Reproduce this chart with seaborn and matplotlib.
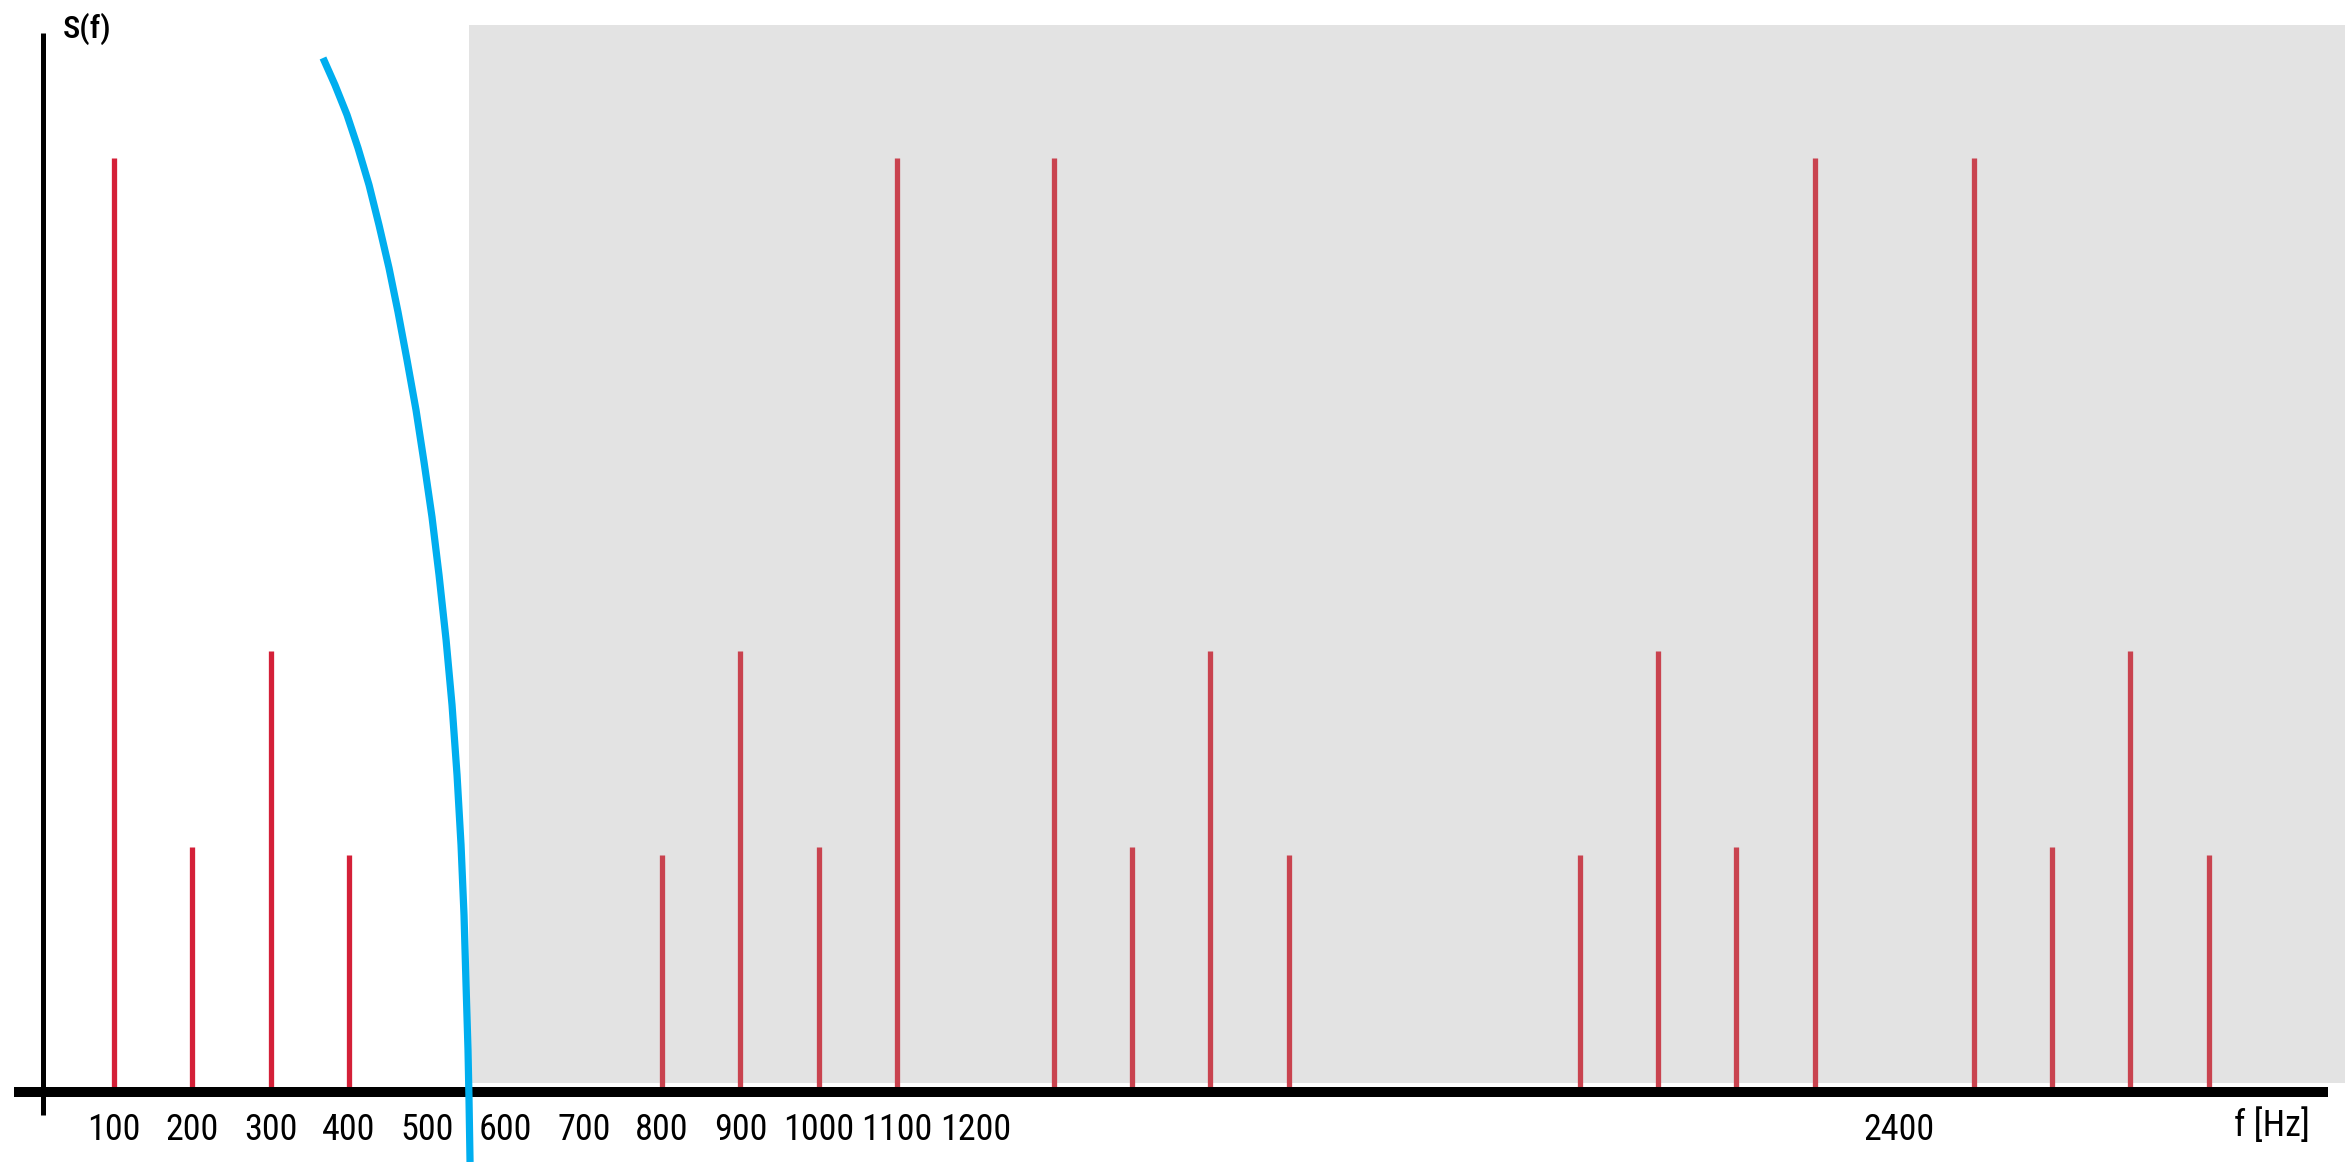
import numpy as np
import pandas as pd
import matplotlib
matplotlib.use("Agg")
import matplotlib.pyplot as plt
from matplotlib import font_manager
import seaborn as sns

sns.set_style("white")

# prefer a condensed face if one is installed
names = {f.name for f in font_manager.fontManager.ttflist}
narrow = [n for n in ['Liberation Sans Narrow', 'DejaVu Sans Condensed',
                      'Roboto Condensed'] if n in names]
if narrow:
    plt.rcParams['font.family'] = [narrow[0], 'DejaVu Sans']
    lab_size = 26
else:
    plt.rcParams['font.family'] = ['Liberation Sans', 'DejaVu Sans']
    lab_size = 22

# spectral lines, baseband (white region)
base_freq = [100, 200, 300, 400]
base_amp = [1.0, 0.258, 0.469, 0.25]

# images around the sampling frequency (grey region)
image_freq = [800, 900, 1000, 1100, 1300, 1400, 1500, 1600,
              1972, 2072, 2172, 2272, 2475, 2575, 2675, 2775]
image_amp = [0.25, 0.469, 0.258, 1.0, 1.0, 0.258, 0.469, 0.25,
             0.25, 0.469, 0.258, 1.0, 1.0, 0.258, 0.469, 0.25]

# anti-aliasing filter edge (blue curve)
filt_f = [366.9, 382.2, 397.6, 411.6, 425.7, 438.4, 451.2, 462.7, 474.2,
          485.7, 495.9, 506.1, 515.1, 524.1, 531.7, 538.1, 543.2, 547.0,
          549.6, 552.1, 553.4, 554.7]
filt_s = [1.1076, 1.0786, 1.0463, 1.0108, 0.9709, 0.9279, 0.8816, 0.8342,
          0.7826, 0.7287, 0.6728, 0.6136, 0.5511, 0.4812, 0.4112, 0.3358,
          0.2605, 0.1851, 0.1098, 0.0398, -0.0140, -0.0807]

tick_pos = [100, 200, 300, 400, 500, 600, 700, 800, 900, 1000, 1100, 1200, 2380]
tick_lab = ['100', '200', '300', '400', '500', '600', '700', '800', '900',
            '1000', '1100', '1200', '2400']

fig = plt.figure(figsize=(23.47, 11.62), dpi=100)
ax = fig.add_axes([0, 0, 1, 1])

# grey stop band
ax.fill_between([553.4, 2949], 0.0043, 1.143, color='#e3e3e3', lw=0, zorder=0)

ax.vlines(base_freq, 0, base_amp, color='#d42038', lw=3.8, zorder=2)
ax.vlines(image_freq, 0, image_amp, color='#c9434f', lw=3.8, zorder=2)

# axes drawn by hand
ax.plot([-27.7, 2927.5], [-0.0054, -0.0054], color='black', lw=7.2,
        solid_capstyle='butt', zorder=3)
ax.plot([8.7, 8.7], [-0.030, 1.135], color='black', lw=3.6,
        solid_capstyle='butt', zorder=3)

filt = pd.DataFrame({'f': filt_f, 's': filt_s})
sns.lineplot(data=filt, x='f', y='s', color='#00aeef', lw=5.2, sort=False,
             solid_capstyle='butt', solid_joinstyle='round', ax=ax, zorder=4)
ax.set_xlim(-45.6, 2951.8)
ax.set_ylim(-0.0807, 1.170)
ax.axis('off')

for p, t in zip(tick_pos, tick_lab):
    ax.text(p, -0.0463, t, ha='center', va='center', fontsize=lab_size,
            color='black')

ax.text(35, 1.139, 'S(f)', ha='left', va='center', fontsize=lab_size * 0.9,
        color='black', fontweight='medium')
ax.text(2856, -0.042, 'f [Hz]', ha='center', va='center', fontsize=lab_size,
        color='black')

plt.savefig('out.png', dpi=100)
